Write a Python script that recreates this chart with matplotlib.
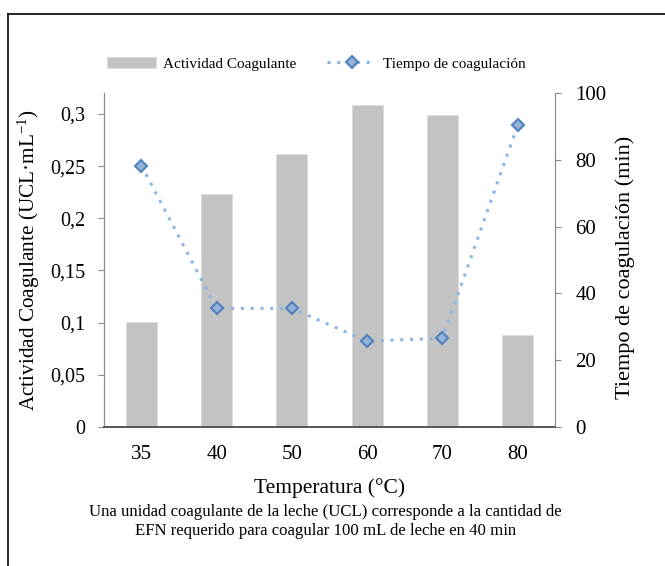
import numpy as np
import matplotlib.pyplot as plt
from matplotlib.lines import Line2D
from matplotlib.ticker import FuncFormatter

plt.rcParams['font.family'] = ['Liberation Serif', 'DejaVu Serif']
plt.rcParams['mathtext.fontset'] = 'custom'
plt.rcParams['mathtext.rm'] = 'Liberation Serif'
plt.rcParams['mathtext.it'] = 'Liberation Serif:italic'

# datos
temperaturas = ['35', '40', '50', '60', '70', '80']
actividad = [0.101, 0.223, 0.262, 0.309, 0.299, 0.088]   # UCL/mL
tiempo = [78.3, 35.5, 35.5, 25.7, 26.6, 90.3]           # min

fig = plt.figure(figsize=(6.65, 5.66), dpi=100)
ax = fig.add_axes([0.156, 0.2456, 0.679, 0.59])
ax2 = ax.twinx()

x = np.arange(len(temperaturas))
ax.bar(x, actividad, width=0.41, color='#c3c3c3', edgecolor='#dcdcdc', linewidth=0.6,
       label='Actividad Coagulante', zorder=2)
ax2.plot(x, tiempo, linestyle=(0, (1, 2.2)), color='#8eb4e3', linewidth=2.2,
         marker='D', markersize=6, markerfacecolor='#95b3d7', markeredgecolor='#4f81bd',
         markeredgewidth=1.5, label='Tiempo de coagulación', zorder=3)

ax.set_xlim(-0.5, 5.5)
ax.set_ylim(0, 0.32)
ax2.set_ylim(0, 100)
ax.set_yticks(np.arange(0, 0.31, 0.05))
ax.yaxis.set_major_formatter(FuncFormatter(lambda v, p: ('%g' % round(v, 2)).replace('.', ',')))
ax2.set_yticks(np.arange(0, 101, 20))
ax.set_xticks(x)
ax.set_xticklabels(temperaturas)

for a in (ax, ax2):
    a.spines['top'].set_visible(False)
    a.spines['left'].set_color('#8c8c8c')
    a.spines['right'].set_color('#8c8c8c')
    a.spines['bottom'].set_color('#595959')
    a.spines['bottom'].set_linewidth(1.3)
ax.tick_params(axis='y', length=4.5, color='#8c8c8c', labelsize=14.5, pad=9)
ax2.tick_params(axis='y', length=4.5, color='#8c8c8c', labelsize=15, pad=10)
ax.tick_params(axis='x', length=0, labelsize=15, pad=13)

ax.set_xlabel('Temperatura (°C)', fontsize=15.5, labelpad=10)
ax.set_ylabel('Actividad Coagulante (UCL·mL$^{-1}$)', fontsize=15.3, labelpad=6)
ax2.set_ylabel('Tiempo de coagulación (min)', fontsize=16)
ax2.yaxis.set_label_coords(1.133, 0.479)

h1, l1 = ax.get_legend_handles_labels()
h2, l2 = ax2.get_legend_handles_labels()
fig.legend(h1 + h2, l1 + l2, loc='center', bbox_to_anchor=(0.476, 0.887), ncol=2,
           frameon=False, fontsize=11, handlelength=3.2, columnspacing=2.0,
           handletextpad=0.45)

fig.text(0.489, 0.078, 'Una unidad coagulante de la leche (UCL) corresponde a la cantidad de\n'
         'EFN requerido para coagular 100 mL de leche en 40 min',
         ha='center', va='center', fontsize=12.1, linespacing=1.25)

# marco
fig.add_artist(Line2D([8 / 665, 8 / 665], [1 - 14 / 566, 0], color='black', linewidth=1.2,
                      transform=fig.transFigure))
fig.add_artist(Line2D([8 / 665, 1], [1 - 14 / 566, 1 - 14 / 566], color='black', linewidth=1.2,
                      transform=fig.transFigure))

fig.savefig('out.png', dpi=100)
